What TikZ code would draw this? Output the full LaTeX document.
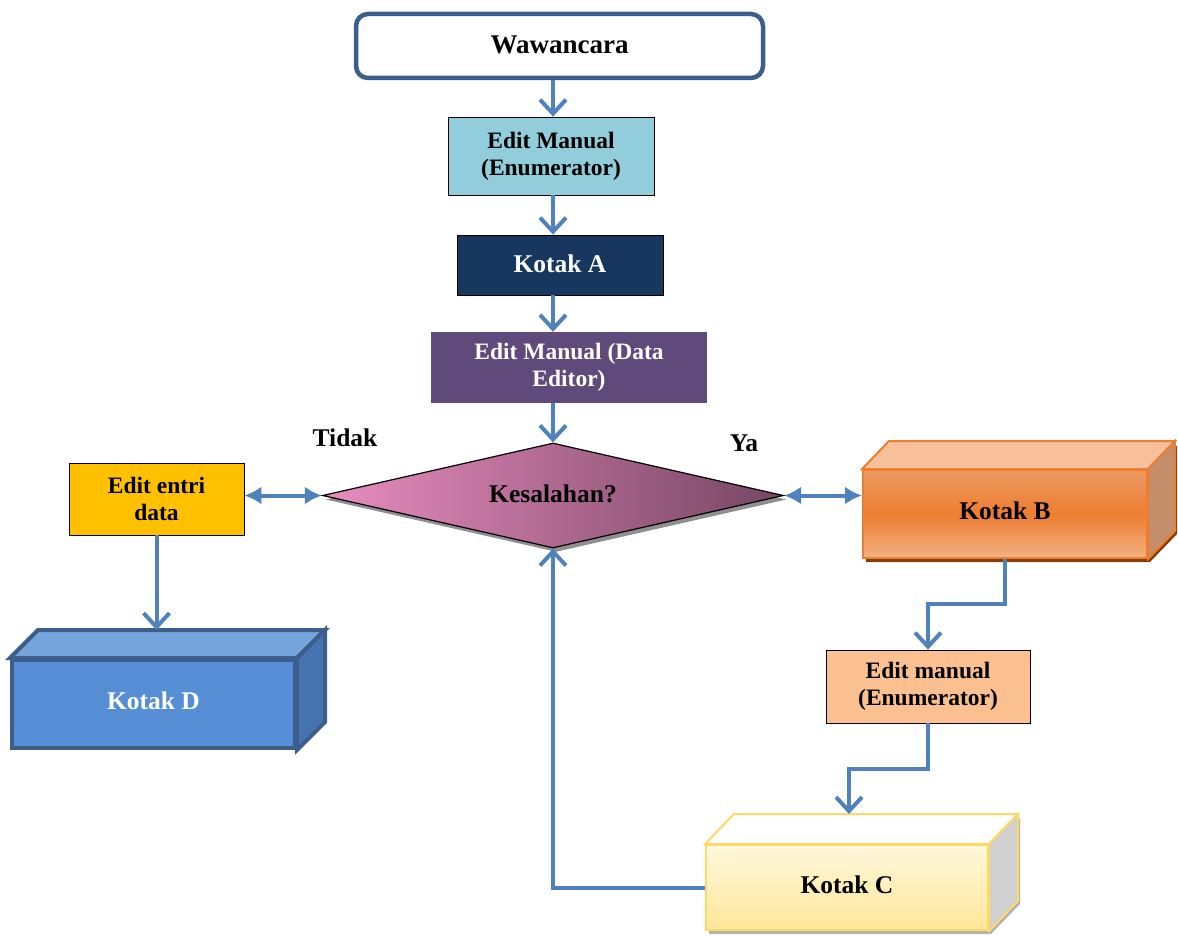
\documentclass[tikz,border=0pt]{standalone}
\usepackage{fontspec}
\setmainfont{Liberation Serif}
\usetikzlibrary{arrows.meta,shapes.geometric,shadows,calc}
\definecolor{arrowblue}{HTML}{4F81BD}
\definecolor{wwborder}{HTML}{3B5E8C}
\definecolor{emfill}{HTML}{92CDDC}
\definecolor{kafill}{HTML}{17375E}
\definecolor{defill}{HTML}{604A7B}
\definecolor{eefill}{HTML}{FFC000}
\definecolor{emtwofill}{HTML}{FAC090}
\definecolor{diaL}{HTML}{E88DC0}
\definecolor{diaR}{HTML}{774663}
\definecolor{bTopC}{HTML}{EE9A63}
\definecolor{bMidC}{HTML}{ED7D31}
\definecolor{bBotC}{HTML}{F4B183}
\definecolor{bTopFace}{HTML}{F8C09A}
\definecolor{bSide}{HTML}{C58E6A}
\definecolor{bShadow}{HTML}{843C0C}
\definecolor{cTopC}{HTML}{FFF8DC}
\definecolor{cBotC}{HTML}{FFE699}
\definecolor{cBorder}{HTML}{FFD966}
\definecolor{cSide}{HTML}{D0D0D0}
\definecolor{dFill}{HTML}{558ED5}
\definecolor{dTop}{HTML}{76A5DD}
\definecolor{dSide}{HTML}{4674B0}
\definecolor{dBorder}{HTML}{3B5E8C}
\newcommand{\cuboidfaces}[5]{%
  \filldraw[fill=#4] (#1.north west) -- ++(#2,-#3) -- ($(#1.north east)+(#2,-#3)$) -- (#1.north east) -- cycle;
  \filldraw[fill=#5] (#1.north east) -- ++(#2,-#3) -- ($(#1.south east)+(#2,-#3)$) -- (#1.south east) -- cycle;}
\begin{document}
\begin{tikzpicture}[x=1pt,y=-1pt,
  bigfont/.style={font=\bfseries\fontsize{25.5}{28}\selectfont},
  smallfont/.style={font=\bfseries\fontsize{23.5}{27}\selectfont},
  flatbox/.style={smallfont, draw=black, line width=0.8pt, inner sep=0pt, align=center},
  conn/.style={draw=arrowblue, line width=4pt, -{Straight Barb[length=14pt,width=26pt]}},
  dconn/.style={draw=arrowblue, line width=4pt, {Latex[length=17pt,width=18pt]}-{Latex[length=17pt,width=18pt]}},
  plain/.style={draw=arrowblue, line width=4pt}]
\useasboundingbox (0,0) rectangle (1178,936);

% top chain
\node[draw=wwborder, line width=4.5pt, rounded corners=12pt, fill=white,
  minimum width=407pt, minimum height=64pt, font=\bfseries\fontsize{27}{30}\selectfont] (ww) at (559.5,46) {\raisebox{2pt}{Wawancara}};
\node[flatbox, fill=emfill, minimum width=206pt, minimum height=78pt] (em1) at (551,156) {Edit Manual\\(Enumerator)};
\node[flatbox, fill=kafill, text=white, minimum width=206pt, minimum height=60pt, bigfont] (ka) at (560,265) {\raisebox{3pt}{Kotak A}};
\node[smallfont, fill=defill, text=white, align=center, inner sep=0pt, minimum width=276pt, minimum height=71pt] (de) at (569,367.5) {Edit Manual (Data\\Editor)};

% diamond
\node[diamond, aspect=4.4, bigfont, draw=black, line width=1.2pt, inner sep=0pt, minimum width=461pt, minimum height=105pt,
  left color=diaL, right color=diaR,
  drop shadow={fill=black!55, shadow xshift=3pt, shadow yshift=-4pt, opacity=0.8}] (dia) at (553,495.5) {\raisebox{3pt}{Kesalahan?}};

\node[bigfont] (tidak) at (345,438) {Tidak};
\node[bigfont] (ya) at (744,443) {Ya};

% left side
\node[flatbox, fill=eefill, minimum width=175pt, minimum height=72pt] (ee) at (156.5,499) {Edit entri\\data};

% Kotak D
\node[bigfont, fill=dFill, draw=dBorder, line width=4pt, text=white, minimum width=283pt, minimum height=88pt, inner sep=0pt] (kd) at (153.5,704) {\raisebox{6pt}{Kotak D}};
\begin{scope}[draw=dBorder, line width=4pt, line join=miter]
\cuboidfaces{kd}{28}{28}{dTop}{dSide}
\end{scope}
\coordinate (kdtop) at ($(kd.north)+(0,-28)$);

% Kotak B
\fill[bShadow] ([shift={(3,4)}]1005,514) ++(-142,-44) -- ++(27,-28) -- ++(284,0) -- ++(0,88) -- ++(-27,28) -- ++(-284,0) -- cycle;
\node[bigfont, draw=bMidC, line width=2pt, top color=bTopC, bottom color=bBotC, middle color=bMidC,
  minimum width=284pt, minimum height=88pt, inner sep=0pt] (kb) at (1005,514) {\raisebox{6pt}{Kotak B}};
\begin{scope}[draw=bMidC, line width=2pt, line join=miter]
\cuboidfaces{kb}{27}{28}{bTopFace}{bSide}
\end{scope}

\node[flatbox, fill=emtwofill, minimum width=204pt, minimum height=73pt] (em2) at (928,686.5) {Edit manual\\(Enumerator)};

% Kotak C
\fill[black!30] ([shift={(3,4)}]847,887.5) ++(-141,-42.5) -- ++(29,-30) -- ++(282,0) -- ++(0,85) -- ++(-29,30) -- ++(-282,0) -- cycle;
\node[bigfont, draw=cBorder, line width=2pt, top color=cTopC, bottom color=cBotC,
  minimum width=282pt, minimum height=85pt, inner sep=0pt] (kc) at (847,887.5) {\raisebox{6pt}{Kotak C}};
\begin{scope}[draw=cBorder, line width=2pt, line join=miter]
\cuboidfaces{kc}{29}{30}{white}{cSide}
\end{scope}
\coordinate (kctop) at ($(kc.north)+(2,-30)$);

% connectors
\draw[conn] (ww.south -| dia.north) -- (em1.north -| dia.north);
\draw[conn] (em1.south -| dia.north) -- (ka.north -| dia.north);
\draw[conn] (ka.south -| dia.north) -- (de.north -| dia.north);
\draw[conn] (de.south -| dia.north) -- (dia.north);
\draw[dconn] (dia.west -| ee.east) -- (dia.west);
\draw[dconn] (dia.east) -- (dia.east -| kb.west);
\draw[conn] (ee.south) -- (ee.south |- kdtop);
\draw[conn] (kb.south) |- ($(kb.south)!0.5!(em2.north)$) -| (em2.north);
\draw[conn] (em2.south) |- ($(em2.south)!0.5!(kctop)$) -| (kctop);
\draw[conn] (kc.west) -| (dia.south);
\end{tikzpicture}
\end{document}
